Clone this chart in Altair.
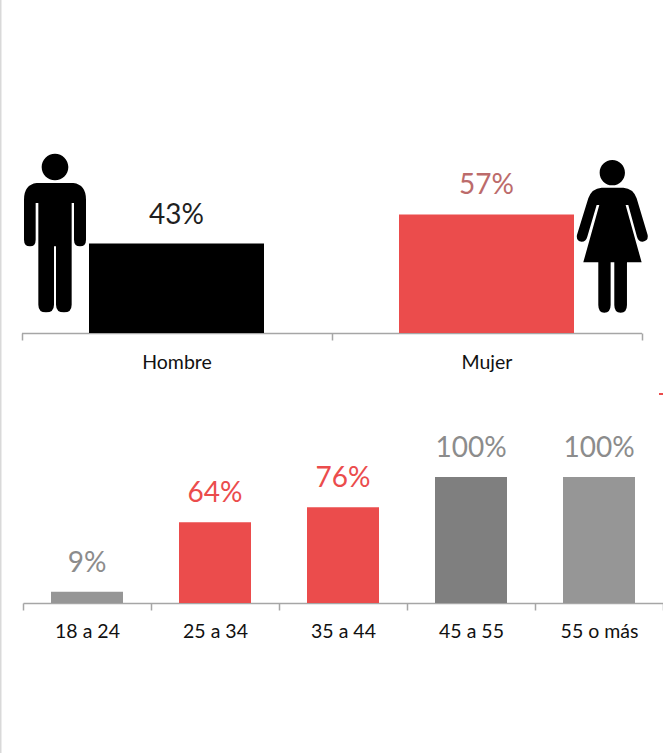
import re
import altair as alt
import pandas as pd

# Gender split
gender_labels = ["Hombre", "Mujer"]
gender_values = [43, 57]
gender_bar_colors = ["#000000", "#EB4C4C"]
gender_text_colors = ["#1F1F1F", "#BC6B6B"]

# Age split
age_labels = ["18 a 24", "25 a 34", "35 a 44", "45 a 55", "55 o más"]
age_values = [9, 64, 76, 100, 100]
age_bar_colors = ["#969696", "#EB4C4C", "#EB4C4C", "#7F7F7F", "#969696"]
age_text_colors = ["#8C8C8C", "#EB4C4C", "#EB4C4C", "#8C8C8C", "#8C8C8C"]

FONT = "Lato"
AXIS_GREY = "#A6A6A6"


def circle(cx, cy, r):
    k = 0.5523 * r
    return (
        f"M {cx - r},{cy} "
        f"C {cx - r},{cy - k} {cx - k},{cy - r} {cx},{cy - r} "
        f"C {cx + k},{cy - r} {cx + r},{cy - k} {cx + r},{cy} "
        f"C {cx + r},{cy + k} {cx + k},{cy + r} {cx},{cy + r} "
        f"C {cx - k},{cy + r} {cx - r},{cy + k} {cx - r},{cy} Z "
    )


def normalise(path, cx, cy, scale=240.0):
    """Recentre an absolute M/L/Q/C outline and fit it to Vega's unit symbol box."""
    def pair(match):
        x, y = float(match.group(1)), float(match.group(2))
        return f"{(x - cx) / scale:.4f},{(y - cy) / scale:.4f}"
    return re.sub(r"(-?[\d.]+),(-?[\d.]+)", pair, path)


man_outline = circle(165, 82, 40) + (
    "M 110,130 L 220,130 Q 258,135 258,180 L 258,300 Q 258,320 240,320 Q 222,320 222,300 "
    "L 222,190 L 215,190 L 215,495 Q 215,518 192,518 Q 168,518 168,495 L 168,320 L 162,320 "
    "L 162,495 Q 162,518 138,518 Q 115,518 115,495 L 115,190 L 107,190 L 107,300 "
    "Q 107,320 90,320 Q 72,320 72,300 L 72,180 Q 72,135 110,130 Z"
)
woman_outline = circle(697, 98, 38) + (
    "M 665,143 L 730,143 Q 760,145 770,175 L 803,285 Q 806,303 788,305 Q 775,305 771,290 "
    "L 745,195 L 737,195 L 785,367 L 741,367 L 741,495 Q 741,518 722,518 Q 703,518 703,495 "
    "L 703,367 L 692,367 L 692,495 Q 692,518 673,518 Q 655,518 655,495 L 655,367 L 610,367 "
    "L 658,195 L 650,195 L 622,290 Q 618,305 605,305 Q 588,303 591,285 L 625,175 "
    "Q 635,145 665,143 Z"
)
man_path = normalise(man_outline, 165, 280)
woman_path = normalise(woman_outline, 697, 289)

stub = pd.DataFrame({"k": [0]})


def panel(labels, values, bar_colors, text_colors, x_range, y_range, bar_width,
          axis_offset, text_size, label_padding):
    """Bars and their percentage labels, each with its own pixel-ranged scales."""
    df = pd.DataFrame({
        "label": labels,
        "value": values,
        "text": [f"{v}%" for v in values],
    })
    x_scale = alt.Scale(domain=labels, range=x_range, paddingInner=0, paddingOuter=0)
    y_scale = alt.Scale(domain=[0, 100], range=y_range)
    axis = alt.Axis(
        title=None, orient="bottom", offset=axis_offset, labelAngle=0, grid=False,
        tickBand="extent", tickSize=7, tickColor=AXIS_GREY, tickWidth=1.5,
        domainColor=AXIS_GREY, domainWidth=1.5, labelFont=FONT, labelFontSize=text_size,
        labelColor="#111111", labelPadding=label_padding, labelBaseline="alphabetic",
    )
    bars = alt.Chart(df).mark_bar(size=bar_width).encode(
        x=alt.X("label:N", sort=labels, scale=x_scale, axis=axis),
        y=alt.Y("value:Q", scale=y_scale, axis=None),
        color=alt.Color("label:N", scale=alt.Scale(domain=labels, range=bar_colors), legend=None),
    )
    texts = alt.Chart(df).mark_text(
        font=FONT, fontSize=28, baseline="alphabetic", align="center", dy=-20
    ).encode(
        x=alt.X("label:N", sort=labels, scale=x_scale, axis=None),
        y=alt.Y("value:Q", scale=y_scale, axis=None),
        text="text:N",
        color=alt.Color("label:N", scale=alt.Scale(domain=labels, range=text_colors), legend=None),
    )
    return [bars, texts]


gender_layers = panel(gender_labels, gender_values, gender_bar_colors, gender_text_colors,
                      [21.5, 641.5], [333, 125], 175, -420, 19.5, 28)
age_layers = panel(age_labels, age_values, age_bar_colors, age_text_colors,
                   [23, 663], [603, 477], 72, -150, 19.5, 27)


def icon(path, px, py):
    return alt.Chart(stub).mark_point(
        shape=path, size=25600, filled=True, fill="#000000", stroke=None, opacity=1
    ).encode(x=alt.value(px), y=alt.value(py))


man = icon(man_path, 55, 233)
woman = icon(woman_path, 612.3, 236.3)

# Thin page edge on the left and the small red stroke at the right margin
edge = alt.Chart(stub).mark_rule(color="#D9D9D9", strokeWidth=2).encode(
    x=alt.value(0.5), y=alt.value(0), y2=alt.value(753)
)
dash = alt.Chart(stub).mark_rule(color="#EB4C4C", strokeWidth=2).encode(
    x=alt.value(659), x2=alt.value(663), y=alt.value(394)
)

chart = (
    alt.layer(edge, dash, *gender_layers, *age_layers, man, woman)
    .resolve_scale(x="independent", y="independent", color="independent")
    .resolve_axis(x="independent", y="independent")
    .properties(
        width=663, height=753, padding=0,
        autosize=alt.AutoSizeParams(type="none"),
        background="#FFFFFF",
    )
    .configure_view(stroke=None)
)

chart.save("out.html", embed_options={"renderer": "svg", "actions": False})
